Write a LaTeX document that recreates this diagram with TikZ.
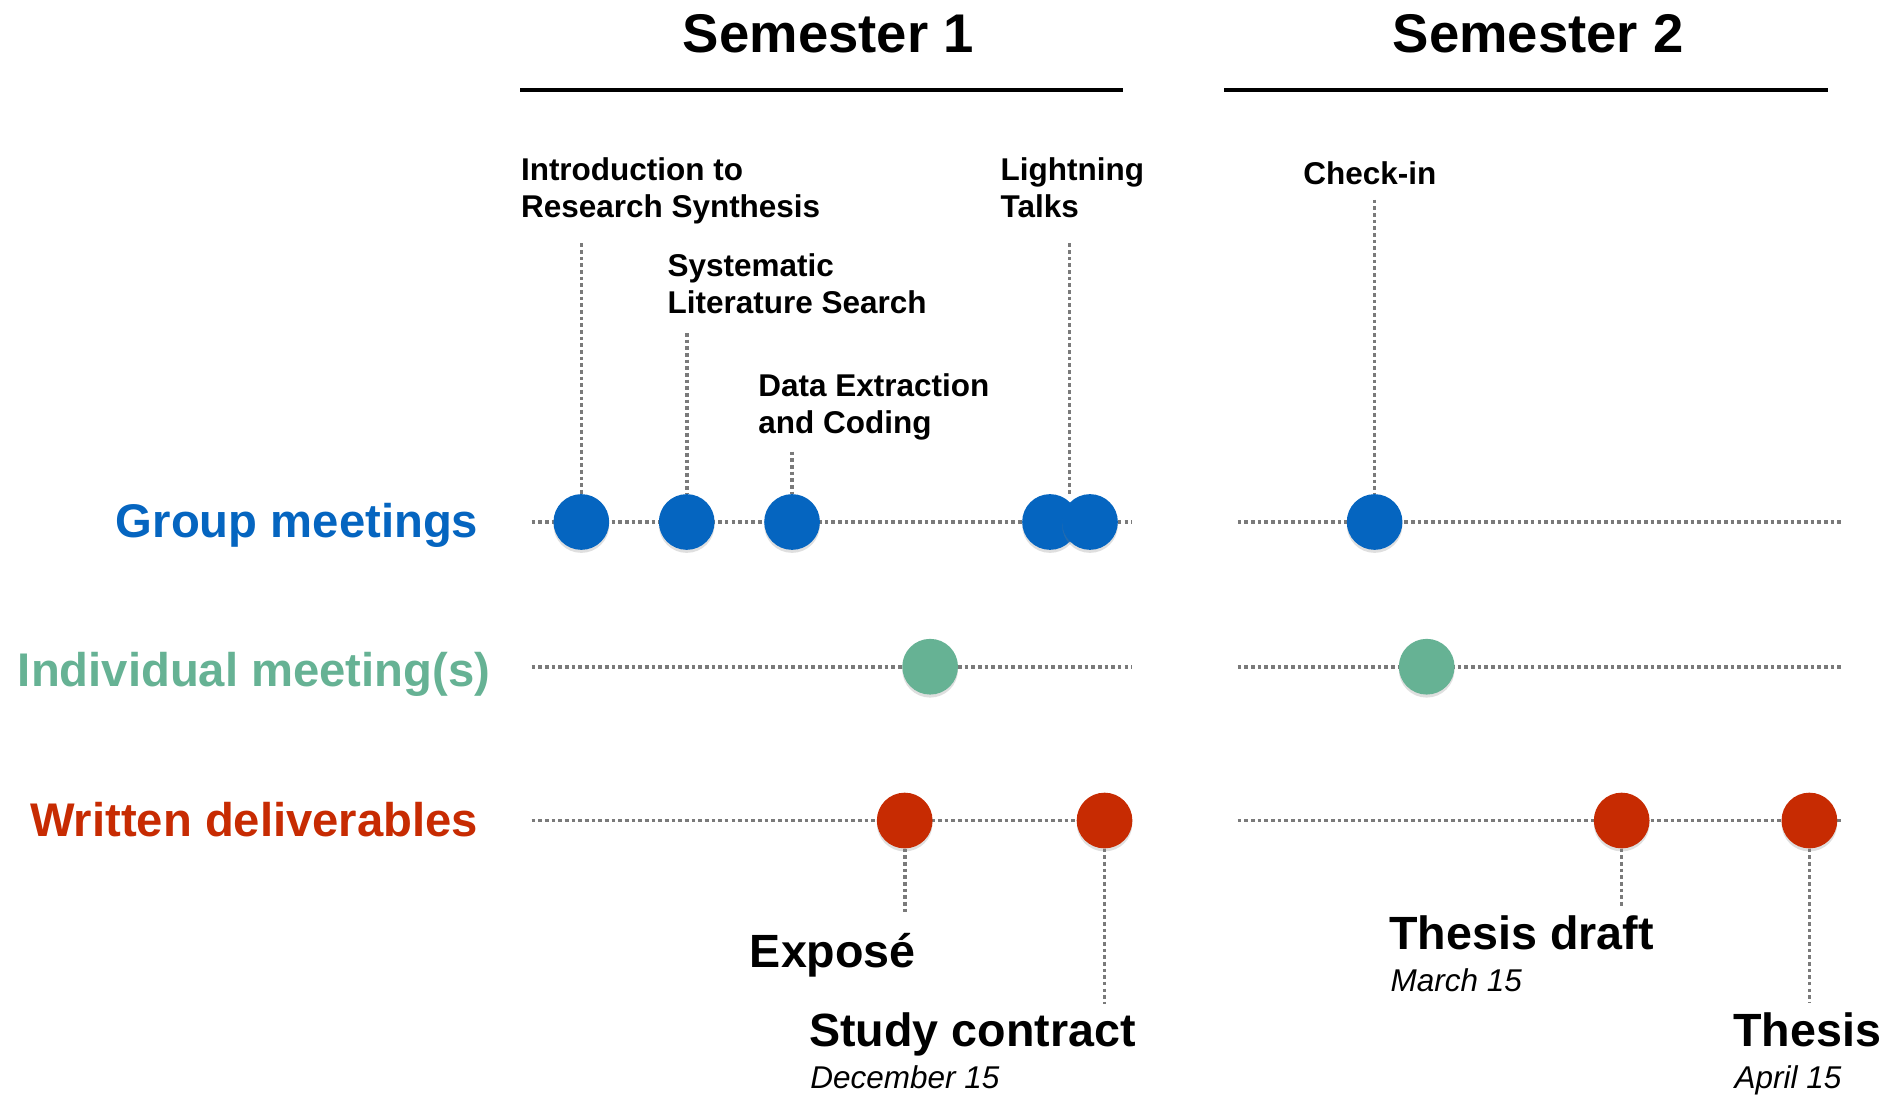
\documentclass[tikz,border=0pt]{standalone}
\usepackage{fontspec}
\setmainfont{Liberation Sans}
\usetikzlibrary{shadows,backgrounds}
\definecolor{gblue}{HTML}{0565C0}
\definecolor{igreen}{HTML}{66B294}
\definecolor{wred}{HTML}{C72B02}
\definecolor{dotgray}{HTML}{7A7A7A}
\tikzset{
  dotline/.style={draw=dotgray, line width=3pt, dash pattern=on 3pt off 2.5pt},
  milestone/.style={circle, minimum size=46pt, inner sep=0pt,
    drop shadow={shadow xshift=0pt, shadow yshift=-2.5pt, opacity=0.25}},
  gm/.style={milestone, fill=gblue},
  im/.style={milestone, fill=igreen},
  wd/.style={milestone, fill=wred},
  headlab/.style={font=\bfseries\fontsize{45}{45}\selectfont, anchor=base, inner sep=0pt},
  rowlab/.style={font=\bfseries\fontsize{39}{39}\selectfont, anchor=base east, inner sep=0pt},
  evlab/.style={font=\bfseries\fontsize{26}{30.3}\selectfont, anchor=base west, align=left, inner sep=0pt},
  dlab/.style={font=\bfseries\fontsize{38.5}{38.5}\selectfont, anchor=base west, inner sep=0pt},
  datelab/.style={font=\itshape\fontsize{26}{26}\selectfont, anchor=base west, inner sep=0pt},
}
\begin{document}
\begin{tikzpicture}[x=1pt,y=-1pt]
\useasboundingbox (0,0) rectangle (1568,905);

% headings
\node[headlab] (sem1) at (684,43) {Semester 1};
\node[headlab] (sem2) at (1270,43) {Semester 2};
\coordinate (s1a) at (429.5,74); \coordinate (s1b) at (927,74);
\coordinate (s2a) at (1011,74);  \coordinate (s2b) at (1509,74);
\draw[line width=3.3pt] (s1a) -- (s1b);
\draw[line width=3.3pt] (s2a) -- (s2b);

% row labels
\node[rowlab, text=gblue] (lgm) at (395,444) {Group meetings};
\node[rowlab, text=igreen] (lim) at (405,567) {Individual meeting(s)};
\node[rowlab, text=wred] (lwd) at (395,691) {Written deliverables};

% event labels (anchor = baseline of last line)
\node[evlab] (intro) at (430,179.5) {Introduction to\\Research Synthesis};
\node[evlab] (sys) at (551,258.5) {Systematic\\Literature Search};
\node[evlab] (data) at (626,358) {Data Extraction\\and Coding};
\node[evlab] (light) at (826,179.5) {Lightning\\Talks};
\node[evlab] (check) at (1076,152) {Check-in};

% deliverable labels
\node[dlab] (expose) at (619,799) {Exposé};
\node[dlab] (study) at (668,864) {Study contract};
\node[datelab] (dec) at (669,899) {December 15};
\node[dlab] (tdraft) at (1147,784) {Thesis draft};
\node[datelab] (mar) at (1148,819) {March 15};
\node[dlab] (thesis) at (1431,864) {Thesis};
\node[datelab] (apr) at (1432,899) {April 15};

% milestones
\node[gm] (g1) at (480,431) {};
\node[gm] (g2) at (567,431) {};
\node[gm] (g3) at (654,431) {};
\node[gm] (g4) at (867,431) {};
\node[gm] (g5) at (900,431) {};
\node[gm] (g6) at (1135,431) {};
\node[im] (i1) at (768,550.5) {};
\node[im] (i2) at (1178,550.5) {};
\node[wd] (w1) at (747,677.5) {};
\node[wd] (w2) at (912,677.5) {};
\node[wd] (w3) at (1339,677.5) {};
\node[wd] (w4) at (1494,677.5) {};

% free ends of connectors
\coordinate (ie) at (480,201);
\coordinate (se) at (567,275);
\coordinate (de) at (654,373);
\coordinate (le) at (883,201);
\coordinate (ce) at (1135,165);
\coordinate (w1e) at (747,753);
\coordinate (w2e) at (912,829);
\coordinate (w3e) at (1339,749);
\coordinate (w4e) at (1494,828);
% row line ends
\coordinate (r1a) at (439,431);  \coordinate (r1b) at (935,431);
\coordinate (r1c) at (1022,431); \coordinate (r1d) at (1520,431);
\coordinate (r2a) at (439,550.5);  \coordinate (r2b) at (935,550.5);
\coordinate (r2c) at (1022,550.5); \coordinate (r2d) at (1520,550.5);
\coordinate (r3a) at (439,677.5);  \coordinate (r3b) at (935,677.5);
\coordinate (r3c) at (1022,677.5); \coordinate (r3d) at (1520,677.5);

\begin{pgfonlayer}{background}
\fill[white] (0,0) rectangle (1568,905);
\draw[dotline] (r1a) -- (r1b);
\draw[dotline] (r1c) -- (r1d);
\draw[dotline] (r2a) -- (r2b);
\draw[dotline] (r2c) -- (r2d);
\draw[dotline] (r3a) -- (r3b);
\draw[dotline] (r3c) -- (r3d);
\draw[dotline] (ie) -- (g1);
\draw[dotline] (se) -- (g2);
\draw[dotline] (de) -- (g3);
\draw[dotline] (le) -- (le |- g4.north);
\draw[dotline] (ce) -- (g6);
\draw[dotline] (w1) -- (w1e);
\draw[dotline] (w2) -- (w2e);
\draw[dotline] (w3) -- (w3e);
\draw[dotline] (w4) -- (w4e);
\end{pgfonlayer}
\end{tikzpicture}
\end{document}
